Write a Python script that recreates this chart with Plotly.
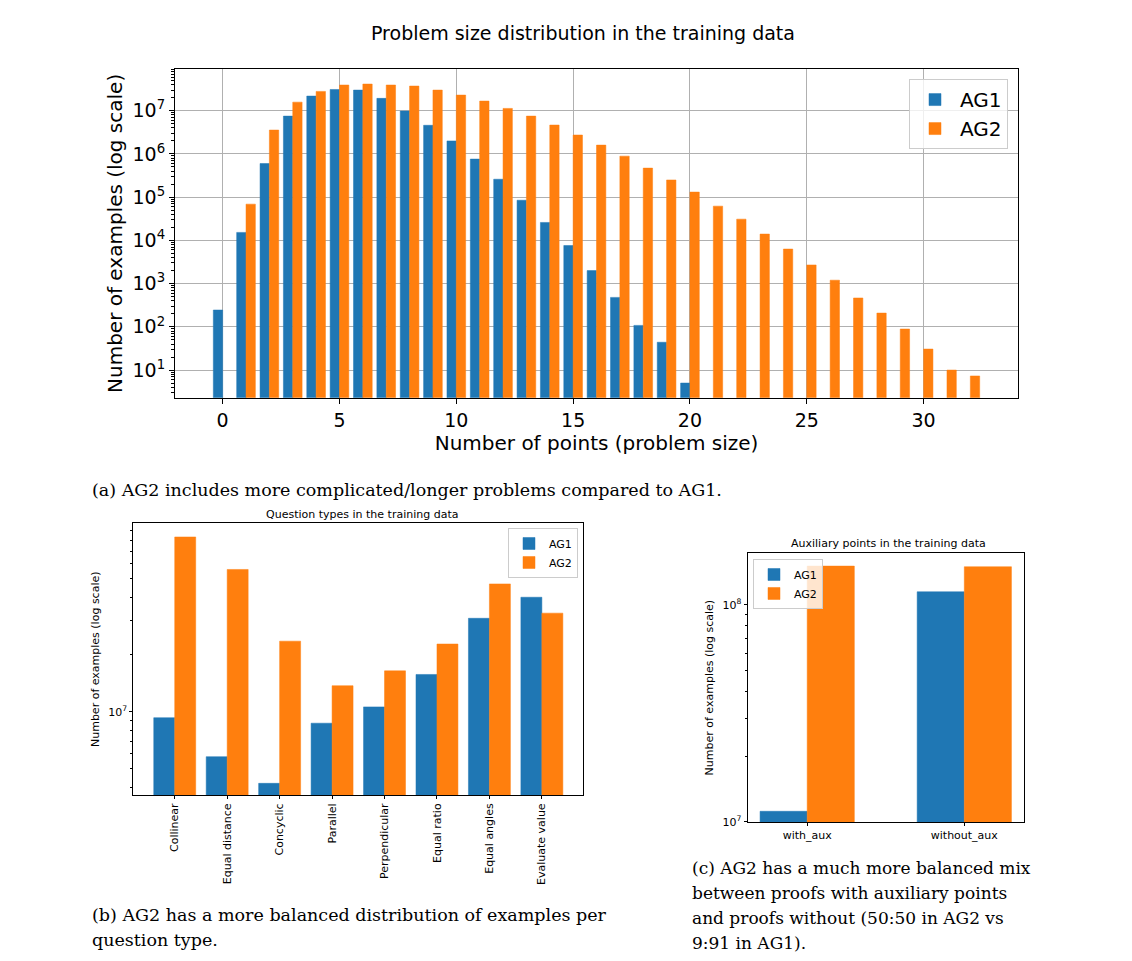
import plotly.graph_objects as go

# (a) problem size distribution in the training data
size_ag1 = list(range(0, 21))
count_ag1 = [245, 15300, 6.0e5, 7.5e6, 2.18e7, 3.1e7, 3.0e7, 1.93e7, 9.8e6, 4.6e6,
             2.0e6, 7.6e5, 2.6e5, 8.5e4, 2.6e4, 7.6e3, 2.0e3, 480, 108, 44, 5]
size_ag2 = list(range(1, 33))
count_ag2 = [6.9e4, 3.57e6, 1.58e7, 2.8e7, 3.93e7, 4.14e7, 3.93e7, 3.72e7, 3.0e7, 2.3e7,
             1.67e7, 1.13e7, 7.5e6, 4.66e6, 2.74e6, 1.6e6, 8.9e5, 4.7e5, 2.5e5, 1.31e5,
             6.2e4, 3.1e4, 1.4e4, 6.3e3, 2.7e3, 1.2e3, 465, 208, 89, 30.6, 10, 7.3]
size_ticks = [0, 5, 10, 15, 20, 25, 30]

# (b) question types in the training data
qtypes = ['Collinear', 'Equal distance', 'Concyclic', 'Parallel', 'Perpendicular',
          'Equal ratio', 'Equal angles', 'Evaluate value']
qtype_ag1 = [9.3e6, 5.8e6, 4.2e6, 8.7e6, 1.06e7, 1.57e7, 3.1e7, 4.0e7]
qtype_ag2 = [8.3e7, 5.6e7, 2.35e7, 1.37e7, 1.64e7, 2.27e7, 4.7e7, 3.3e7]

# (c) auxiliary points in the training data
aux_cats = ['with_aux', 'without_aux']
aux_ag1 = [1.12e7, 1.15e8]
aux_ag2 = [1.51e8, 1.50e8]

# the page body has an 8px margin; vertical positions get a small stretch
PAD = 8
KY = 968 / 961
W, H = 1132 - 2 * PAD, 953
BLUE, ORANGE = '#1f77b4', '#ff7f0e'
SANS = 'DejaVu Sans'
SERIF = 'DejaVu Serif'


def fx(x):
    return (x - PAD) / W


def fy(y):
    return 1 - (y * KY - PAD) / H


def minor_vals(lo, hi):
    return [m * 10 ** e for e in range(lo, hi) for m in range(2, 10)]


def pow_text(exps):
    return ['10<sup>%d</sup>' % e for e in exps]


fig = go.Figure()

fig.add_trace(go.Bar(x=size_ag1, y=count_ag1, name='AG1', width=0.4, offset=-0.4,
                     marker=dict(color=BLUE, line=dict(color=BLUE, width=0.5)),
                     xaxis='x', yaxis='y', legend='legend'))
fig.add_trace(go.Bar(x=size_ag2, y=count_ag2, name='AG2', width=0.4, offset=0,
                     marker=dict(color=ORANGE, line=dict(color=ORANGE, width=0.5)),
                     xaxis='x', yaxis='y', legend='legend'))

fig.add_trace(go.Bar(x=qtypes, y=qtype_ag1, name='AG1', width=0.4, offset=-0.4,
                     marker=dict(color=BLUE, line=dict(color=BLUE, width=0.5)),
                     xaxis='x2', yaxis='y2', legend='legend2'))
fig.add_trace(go.Bar(x=qtypes, y=qtype_ag2, name='AG2', width=0.4, offset=0,
                     marker=dict(color=ORANGE, line=dict(color=ORANGE, width=0.5)),
                     xaxis='x2', yaxis='y2', legend='legend2'))

fig.add_trace(go.Bar(x=aux_cats, y=aux_ag1, name='AG1', width=0.3, offset=-0.3,
                     marker=dict(color=BLUE, line=dict(color=BLUE, width=0.5)),
                     xaxis='x3', yaxis='y3', legend='legend3'))
fig.add_trace(go.Bar(x=aux_cats, y=aux_ag2, name='AG2', width=0.3, offset=0,
                     marker=dict(color=ORANGE, line=dict(color=ORANGE, width=0.5)),
                     xaxis='x3', yaxis='y3', legend='legend3'))

box = dict(showline=True, mirror=True, linecolor='black', linewidth=1,
           ticks='outside', tickcolor='black', zeroline=False)

fig.update_layout(
    width=W, height=H,
    margin=dict(l=0, r=0, t=0, b=0),
    paper_bgcolor='white', plot_bgcolor='white',
    barmode='overlay',
    font=dict(family=SANS, color='black'),
    xaxis=dict(domain=[fx(175), fx(1018)], anchor='y', range=[-2.04, 34.04],
               tickmode='array', tickvals=size_ticks, ticklen=5,
               showgrid=True, gridcolor='#b0b0b0', gridwidth=1,
               tickfont=dict(size=19),
               title=dict(text='Number of points (problem size)', font=dict(size=20), standoff=6),
               **box),
    yaxis=dict(domain=[fy(397.7), fy(69)], anchor='x', type='log', range=[0.36, 7.964],
               tickmode='array', tickvals=[10 ** e for e in range(1, 8)],
               ticktext=pow_text(range(1, 8)), ticklen=5,
               minor=dict(tickvals=minor_vals(0, 8), ticks='outside', ticklen=3,
                          tickcolor='black', showgrid=False),
               showgrid=True, gridcolor='#b0b0b0', gridwidth=1,
               tickfont=dict(size=19),
               title=dict(text='Number of examples (log scale)', font=dict(size=20), standoff=4),
               **box),
    xaxis2=dict(domain=[fx(133.3), fx(583.3)], anchor='y2', range=[-0.79, 7.79],
                tickangle=-90, ticklen=3, tickfont=dict(size=11), showgrid=False, **box),
    yaxis2=dict(domain=[fy(795), fy(523.5)], anchor='x2', type='log', range=[6.562, 7.99],
                tickmode='array', tickvals=[1e7], ticktext=pow_text([7]), ticklen=3,
                minor=dict(tickvals=minor_vals(6, 8), ticks='outside', ticklen=2,
                           tickcolor='black', showgrid=False),
                tickfont=dict(size=11), showgrid=False,
                title=dict(text='Number of examples (log scale)', font=dict(size=11), standoff=6),
                **box),
    xaxis3=dict(domain=[fx(747.5), fx(1024)], anchor='y3', range=[-0.38, 1.38],
                ticklen=3, tickfont=dict(size=11), showgrid=False, **box),
    yaxis3=dict(domain=[fy(822), fy(553.3)], anchor='x3', type='log', range=[7, 8.238],
                tickmode='array', tickvals=[1e7, 1e8], ticktext=pow_text([7, 8]), ticklen=3,
                minor=dict(tickvals=minor_vals(7, 9), ticks='outside', ticklen=2,
                           tickcolor='black', showgrid=False),
                tickfont=dict(size=11), showgrid=False,
                title=dict(text='Number of examples (log scale)', font=dict(size=11), standoff=6),
                **box),
    legend=dict(x=fx(1008), y=fy(79), xanchor='right', yanchor='top',
                font=dict(size=20), bgcolor='rgba(255,255,255,0.8)',
                bordercolor='#cccccc', borderwidth=1, itemwidth=40),
    legend2=dict(x=fx(578), y=fy(528), xanchor='right', yanchor='top',
                 font=dict(size=11), bgcolor='rgba(255,255,255,0.8)',
                 bordercolor='#cccccc', borderwidth=1, itemwidth=30),
    legend3=dict(x=fx(753), y=fy(559), xanchor='left', yanchor='top',
                 font=dict(size=11), bgcolor='rgba(255,255,255,0.8)',
                 bordercolor='#cccccc', borderwidth=1, itemwidth=30),
)

# titles and captions
notes = [
    (583, 33, 'Problem size distribution in the training data', SANS, 19, 'center'),
    (362, 515, 'Question types in the training data', SANS, 11, 'center'),
    (888, 544, 'Auxiliary points in the training data', SANS, 11, 'center'),
    (90, 490, '(a) AG2 includes more complicated/longer problems compared to AG1.', SERIF, 17.5, 'left'),
    (90, 915, '(b) AG2 has a more balanced distribution of examples per', SERIF, 17.5, 'left'),
    (90, 940, 'question type.', SERIF, 17.5, 'left'),
    (690, 868, '(c) AG2 has a much more balanced mix', SERIF, 17, 'left'),
    (690, 893, 'between proofs with auxiliary points', SERIF, 17, 'left'),
    (690, 918, 'and proofs without (50:50 in AG2 vs', SERIF, 17, 'left'),
    (690, 943, '9:91 in AG1).', SERIF, 17, 'left'),
]
for x, y, text, family, size, anchor in notes:
    fig.add_annotation(x=fx(x), y=fy(y), xref='paper', yref='paper', text=text,
                       showarrow=False, xanchor=anchor, yanchor='middle',
                       font=dict(family=family, size=size, color='black'))

fig.write_html("out.html")
